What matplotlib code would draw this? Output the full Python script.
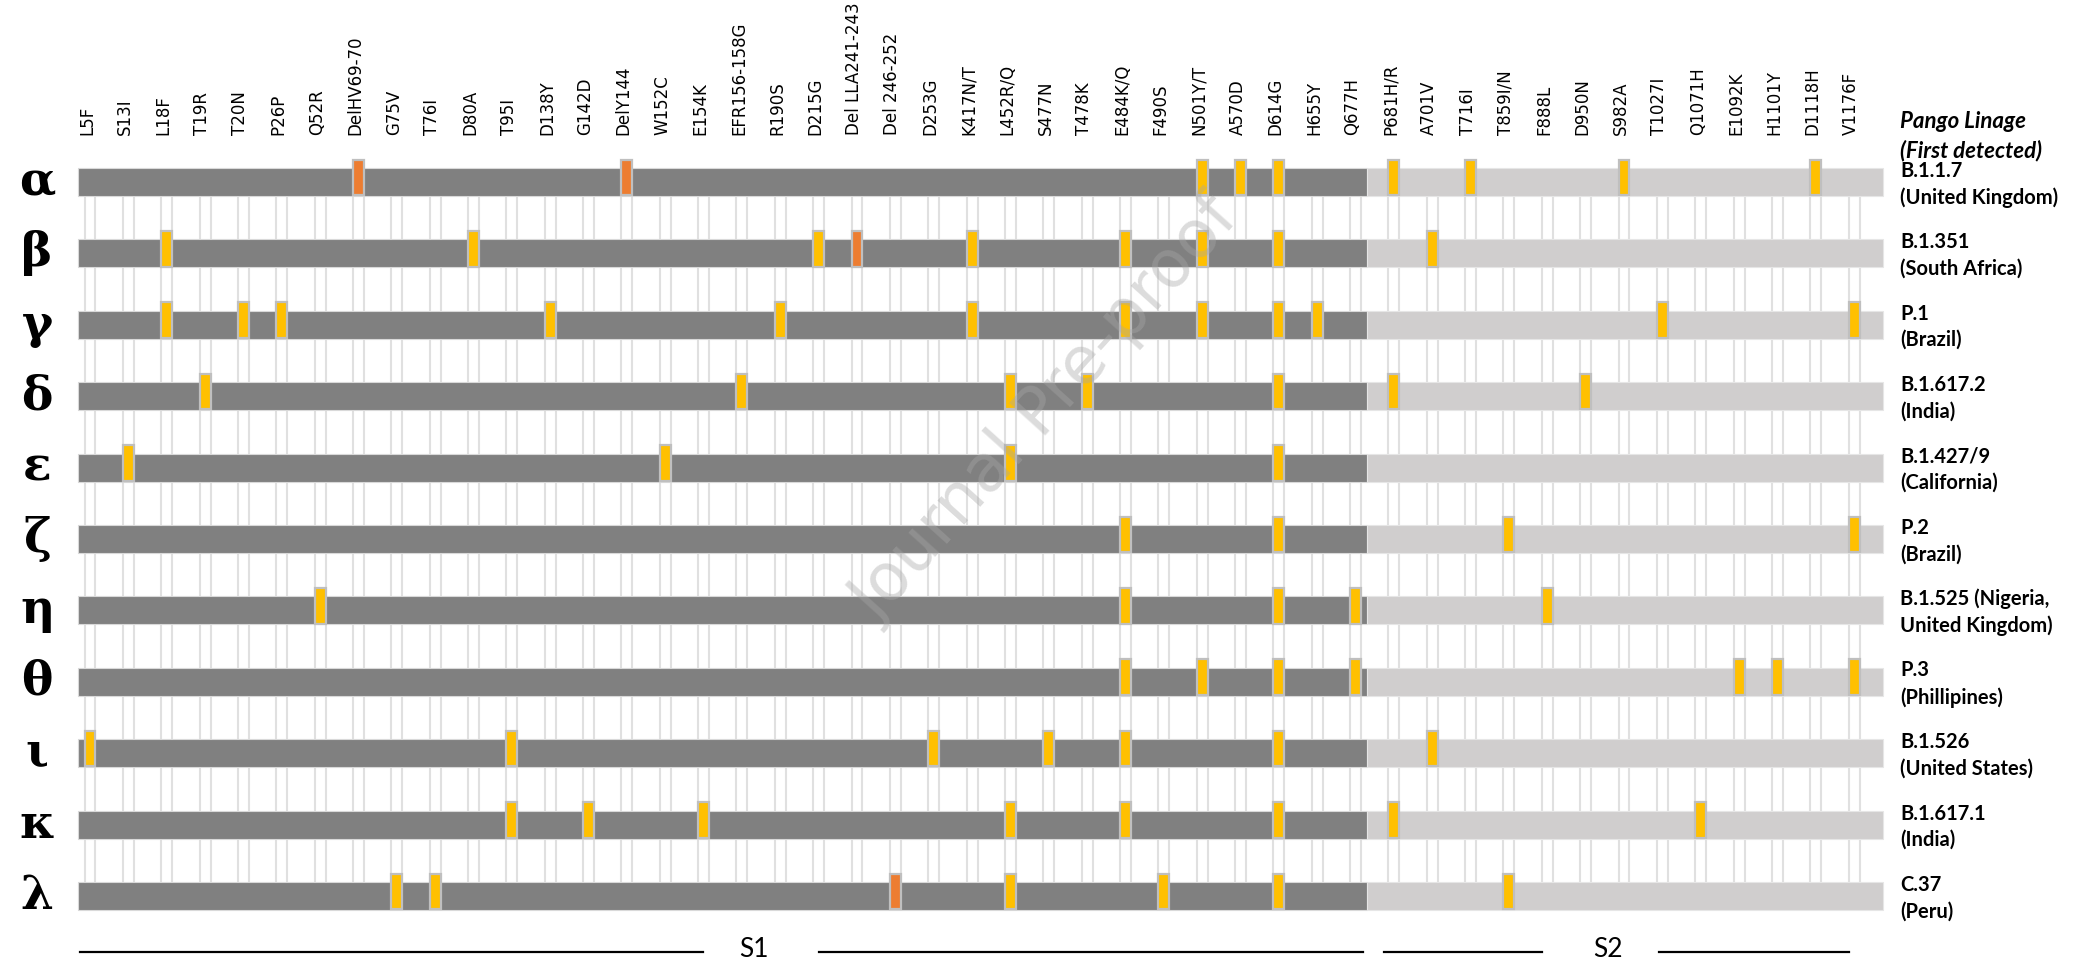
import matplotlib
matplotlib.use("Agg")
import matplotlib.pyplot as plt
from matplotlib.patches import Rectangle

# spike mutations shown as columns (left to right)
mutations = ["L5F", "S13I", "L18F", "T19R", "T20N", "P26P", "Q52R", "DelHV69-70",
             "G75V", "T76I", "D80A", "T95I", "D138Y", "G142D", "DelY144", "W152C",
             "E154K", "EFR156-158G", "R190S", "D215G", "Del LLA241-243", "Del 246-252",
             "D253G", "K417N/T", "L452R/Q", "S477N", "T478K", "E484K/Q", "F490S",
             "N501Y/T", "A570D", "D614G", "H655Y", "Q677H", "P681H/R", "A701V", "T716I",
             "T859I/N", "F888L", "D950N", "S982A", "T1027I", "Q1071H", "E1092K",
             "H1101Y", "D1118H", "V1176F"]

variants = ["α", "β", "γ", "δ", "ε", "ζ", "η", "θ", "ι", "κ", "λ"]

lineages = ["B.1.1.7\n(United Kingdom)", "B.1.351\n(South Africa)", "P.1\n(Brazil)",
            "B.1.617.2\n(India)", "B.1.427/9\n(California)", "P.2\n(Brazil)",
            "B.1.525 (Nigeria,\nUnited Kingdom)", "P.3\n(Phillipines)",
            "B.1.526\n(United States)", "B.1.617.1\n(India)", "C.37\n(Peru)"]

alpha_muts = ["DelHV69-70", "DelY144", "N501Y/T", "A570D", "D614G", "P681H/R", "T716I", "S982A", "D1118H"]
beta_muts = ["L18F", "D80A", "D215G", "Del LLA241-243", "K417N/T", "E484K/Q", "N501Y/T", "D614G", "A701V"]
gamma_muts = ["L18F", "T20N", "P26P", "D138Y", "R190S", "K417N/T", "E484K/Q", "N501Y/T", "D614G",
              "H655Y", "T1027I", "V1176F"]
delta_muts = ["T19R", "EFR156-158G", "L452R/Q", "T478K", "D614G", "P681H/R", "D950N"]
epsilon_muts = ["S13I", "W152C", "L452R/Q", "D614G"]
zeta_muts = ["E484K/Q", "D614G", "T859I/N", "V1176F"]
eta_muts = ["Q52R", "E484K/Q", "D614G", "Q677H", "F888L"]
theta_muts = ["E484K/Q", "N501Y/T", "D614G", "Q677H", "E1092K", "H1101Y", "V1176F"]
iota_muts = ["L5F", "T95I", "D253G", "S477N", "E484K/Q", "D614G", "A701V"]
kappa_muts = ["T95I", "G142D", "E154K", "L452R/Q", "E484K/Q", "D614G", "P681H/R", "Q1071H"]
lambda_muts = ["G75V", "T76I", "Del 246-252", "L452R/Q", "F490S", "D614G", "T859I/N"]

variant_muts = [alpha_muts, beta_muts, gamma_muts, delta_muts, epsilon_muts, zeta_muts,
                eta_muts, theta_muts, iota_muts, kappa_muts, lambda_muts]

# domain extents in column units
bar_start = -0.31
s1_end = 33.30
s2_end = 46.75

S1_COLOR = "#808080"
S2_COLOR = "#D0CECE"
SUB_COLOR = "#FFC000"
DEL_COLOR = "#ED7D31"

fig = plt.figure(figsize=(20.81, 9.67), dpi=100)
ax = fig.add_axes([0, 0, 1, 1])
ax.set_xlim(-90 / 38.35, (2081 - 90) / 38.35)
ax.set_ylim((967 - 182) / 71.4, -182 / 71.4)
ax.axis("off")

xcol = {m: i for i, m in enumerate(mutations)}
n_rows = len(variants)

# thin guide lines pairs for each column
for i in range(len(mutations)):
    ax.vlines([i - 0.143, i + 0.143], 0, n_rows - 1, color="#E0E0E0", lw=1.5, zorder=1)

bar_h = 0.392
for r in range(n_rows):
    ax.barh(r, s1_end - bar_start, left=bar_start, height=bar_h, color=S1_COLOR,
            edgecolor="#D9D9D9", lw=0.8, zorder=2)
    ax.barh(r, s2_end - s1_end, left=s1_end, height=bar_h, color=S2_COLOR,
            edgecolor="#E6E6E6", lw=0.8, zorder=2)
    for m in variant_muts[r]:
        c = DEL_COLOR if m.startswith("Del") else SUB_COLOR
        mh = 0.50
        ax.add_patch(Rectangle((xcol[m] - 0.143, r + 0.185 - mh), 0.286, mh,
                               facecolor=c, edgecolor="#BFBFBF", lw=1.6, zorder=3))
    ax.text(-1.38, r, variants[r], fontsize=34, fontweight="bold", family="DejaVu Serif",
            ha="center", va="center")
    ax.text(47.2, r + 0.03, lineages[r], fontsize=14.5, fontweight="bold", family="Lato",
            ha="left", va="center", linespacing=1.4)

# column labels
for i, m in enumerate(mutations):
    ax.text(i - 0.08, -0.66, m, rotation=90, fontsize=12, family="DejaVu Sans",
            ha="center", va="bottom")

ax.text(47.2, -0.64, "Pango Linage\n(First detected)", fontsize=16, fontweight="bold",
        style="italic", family="Lato", ha="left", va="center", linespacing=1.4)

# domain lines at the bottom
yb = (952 - 182) / 71.4
seg = [(80, 703), (819, 1363), (1384, 1542), (1659, 1849)]
for a, b in seg:
    ax.plot([(a - 90) / 38.35, (b - 90) / 38.35], [yb, yb], color="black", lw=1.6)
ax.text((754 - 90) / 38.35, yb - 0.03, "S1", fontsize=19, family="Lato", ha="center", va="center")
ax.text((1608 - 90) / 38.35, yb - 0.03, "S2", fontsize=19, family="Lato", ha="center", va="center")

# watermark
ax.text(24.95, 3.2, "Journal Pre-proof", rotation=48, fontsize=47,
        color="#A8A8A8", alpha=0.4, ha="center", va="center", zorder=6)

plt.savefig("out.png", dpi=100)
